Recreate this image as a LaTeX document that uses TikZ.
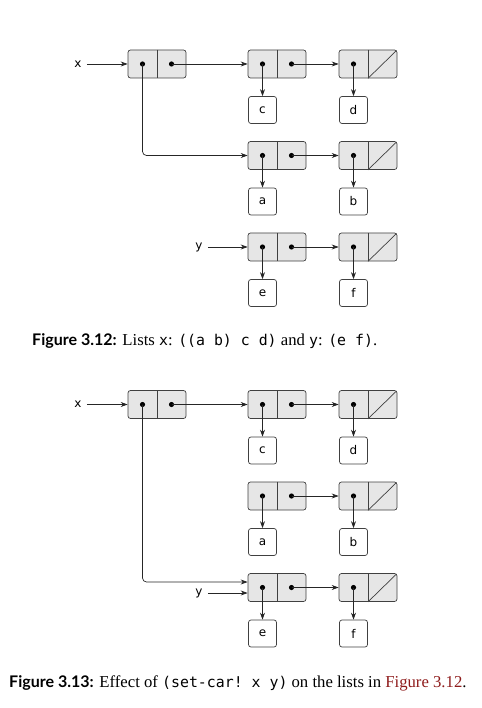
\documentclass[tikz,border=0pt]{standalone}
\usepackage{fontspec}
\setmainfont{Liberation Serif}
\setsansfont[Scale=0.96]{Lato}
\setmonofont[Scale=0.89]{DejaVu Sans Mono}
\newfontfamily\boxfont{DejaVu Sans}
\usetikzlibrary{positioning, arrows.meta}
\definecolor{cellgray}{HTML}{E6E6E6}
\definecolor{linkred}{HTML}{8E1B1B}

\begin{document}
\begin{tikzpicture}[x=1pt, y=-1pt,
    pair/.style={draw=black!75, line width=0.7pt, rounded corners=2.5pt, fill=cellgray,
        minimum width=58pt, minimum height=28pt, inner sep=0pt},
    atom/.style={draw=black!75, line width=0.7pt, rounded corners=2.5pt, fill=white,
        minimum width=28pt, minimum height=27pt, inner sep=0pt, font=\boxfont\fontsize{12}{14}\selectfont},
    lbl/.style={font=\boxfont\fontsize{12}{14}\selectfont, inner sep=5pt},
    cell/.style={black!75, line width=0.7pt},
    ptr/.style={-{Stealth[length=7pt, width=5pt]}, black!85, line width=0.7pt},
    caption/.style={anchor=west, inner sep=0pt, font=\fontsize{16.7}{20}\selectfont}]
    \useasboundingbox (0,0) rectangle (481,708);

    % Figure 3.12: pairs
    \node [pair] (a1) at (157,64) {};
    \node [pair] (a2) at (277,64) {};
    \node [pair] (a3) at (368,64) {};
    \node [pair] (a4) at (277,155.5) {};
    \node [pair] (a5) at (368,155.5) {};
    \node [pair] (a6) at (277,247) {};
    \node [pair] (a7) at (368,247) {};

    % Figure 3.13: pairs
    \node [pair] (b1) at (157,404.5) {};
    \node [pair] (b2) at (277,404.5) {};
    \node [pair] (b3) at (368,404.5) {};
    \node [pair] (b4) at (277,496) {};
    \node [pair] (b5) at (368,496) {};
    \node [pair] (b6) at (277,587.5) {};
    \node [pair] (b7) at (368,587.5) {};

    % Dividers and dots
    \foreach \p in {a1,a2,a3,a4,a5,a6,a7,b1,b2,b3,b4,b5,b6,b7} {
        \draw [cell] (\p.north) -- (\p.south);
        \coordinate (\p-car) at ([xshift=-14.5pt]\p.center);
        \coordinate (\p-cdr) at ([xshift=14.5pt]\p.center);
        \fill (\p-car) circle (2.6pt);
    }
    \foreach \p in {a1,a2,a4,a6,b1,b2,b4,b6}
        \fill (\p-cdr) circle (2.6pt);
    % Empty list
    \foreach \p in {a3,a5,a7,b3,b5,b7}
        \draw [cell] (\p.south) -- ([xshift=-1pt, yshift=-1pt]\p.north east);

    % Atoms
    \node [atom] (c1) at (262.5,110) {c};
    \node [atom] (d1) at (353.5,110) {d};
    \node [atom] (a1x) at (262.5,201.5) {a};
    \node [atom] (b1x) at (353.5,201.5) {b};
    \node [atom] (e1) at (262.5,293) {e};
    \node [atom] (f1) at (353.5,293) {f};
    \node [atom] (c2) at (262.5,450.5) {c};
    \node [atom] (d2) at (353.5,450.5) {d};
    \node [atom] (a2x) at (262.5,542) {a};
    \node [atom] (b2x) at (353.5,542) {b};
    \node [atom] (e2) at (262.5,633.5) {e};
    \node [atom] (f2) at (353.5,633.5) {f};

    % Variables
    \node [lbl] (x1) at (78,64) {x};
    \node [lbl] (y1) at (199,247) {y};
    \node [lbl] (x2) at (78,404.5) {x};
    \node [lbl] (y2) at (199,593) {y};

    % Figure 3.12: pointers
    \draw [ptr] (x1) -- (a1);
    \draw [ptr] (a1-cdr) -- (a2);
    \draw [ptr] (a2-cdr) -- (a3);
    \draw [ptr] (a2-car) -- (c1);
    \draw [ptr] (a3-car) -- (d1);
    \draw [ptr, rounded corners=4pt] (a1-car) |- (a4);
    \draw [ptr] (a4-cdr) -- (a5);
    \draw [ptr] (a4-car) -- (a1x);
    \draw [ptr] (a5-car) -- (b1x);
    \draw [ptr] (y1) -- (a6);
    \draw [ptr] (a6-cdr) -- (a7);
    \draw [ptr] (a6-car) -- (e1);
    \draw [ptr] (a7-car) -- (f1);

    % Figure 3.13: pointers
    \draw [ptr] (x2) -- (b1);
    \draw [ptr] (b1-cdr) -- (b2);
    \draw [ptr] (b2-cdr) -- (b3);
    \draw [ptr] (b2-car) -- (c2);
    \draw [ptr] (b3-car) -- (d2);
    \draw [ptr] (b4-cdr) -- (b5);
    \draw [ptr] (b4-car) -- (a2x);
    \draw [ptr] (b5-car) -- (b2x);
    \draw [ptr, rounded corners=4pt] (b1-car) |- ([yshift=5.5pt]b6.west);
    \draw [ptr] (y2) -- (y2 -| b6.west);
    \draw [ptr] (b6-cdr) -- (b7);
    \draw [ptr] (b6-car) -- (e2);
    \draw [ptr] (b7-car) -- (f2);

    % Captions
    \node [caption] (cap1) at (32,341.5)
        {\textsf{\bfseries Figure 3.12:} Lists \texttt{x}: \texttt{((a b) c d)} and \texttt{y}: \texttt{(e f)}.};
    \node [caption] (cap2) at (9,683)
        {\textsf{\bfseries Figure 3.13:} Effect of \texttt{(set-car! x y)} on the lists in \textcolor{linkred}{Figure 3.12}.};
\end{tikzpicture}
\end{document}
